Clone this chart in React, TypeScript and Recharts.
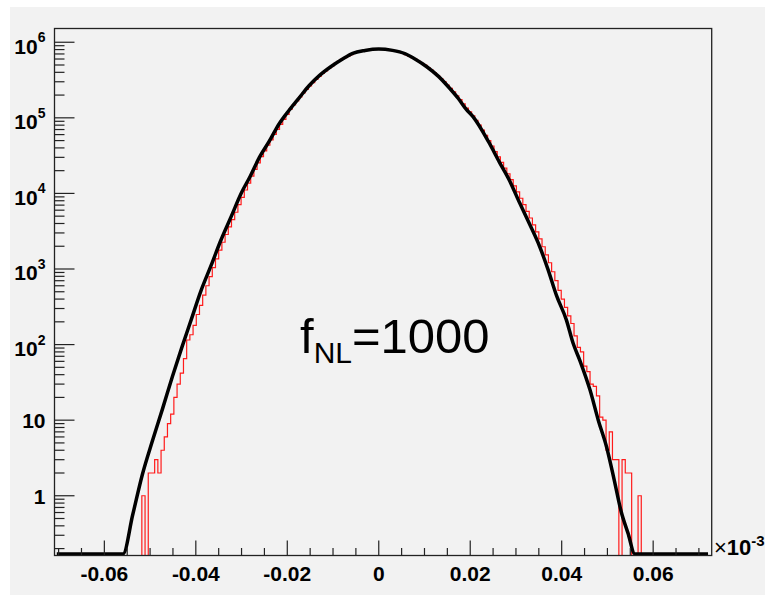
import { Line, LineChart, XAxis, YAxis } from "recharts";

// red histogram: fixed-width bins starting at RED_BIN_START
const RED_BIN_START = -0.0518;
const RED_BIN_WIDTH = 0.0007;
const redCounts = [
  // left tail
  1, 0, 2, 2, 3, 2, 4, 6, 9, 12, 20, 30, 42, 65, 115, 135, 180, 250, 330, 450,
  // left core
  600, 794, 1044, 1365, 1780, 2260, 2860, 3600, 4510, 5630, 7090, 8890, 11100, 13700, 16900, 20800, 25300, 30700,
  36600, 43400, 51200, 60200, 70300, 81800, 95600, 111000, 130000, 148000, 168000, 189000, 213000, 238000, 264000,
  293000, 322000, 353000, 386000, 419000, 452000, 487000, 526000, 560000, 593000, 625000, 656000, 685000, 712000,
  736000, 758000, 776000, 791000, 803000, 810000, 814000,
  // right core
  814000, 810000, 803000, 791000, 776000, 758000, 736000, 712000, 685000, 656000, 625000, 593000, 560000, 526000,
  497000, 462000, 428000, 395000, 362000, 331000, 301000, 272000, 245000, 220000, 196000, 174000, 153000, 135000,
  120000, 106000, 92700, 80100, 68800, 58800, 50100, 42400, 35700, 30400, 25700, 21600, 18200, 15200, 12600, 10500,
  8630, 7090, 5800, 4730, 3840, 3100, 2500, 1970, 1540, 1210,
  // right tail
  920, 700, 520, 400, 310, 240, 190, 130, 92, 80, 52, 44, 30, 28, 21, 11, 10, 4, 7, 3, 3, 0, 3, 2, 2, 0, 0, 1,
];

// black curve
const blackX = [
  -0.0704, -0.0559, -0.0538, -0.0517, -0.0495, -0.0473, -0.0451, -0.043, -0.041, -0.0389, -0.0367, -0.0345, -0.0323,
  -0.0301, -0.0281, -0.0261, -0.024, -0.0218, -0.0196, -0.0174, -0.0152, -0.013, -0.0105, -0.008, -0.0057, -0.003, 0,
  0.003, 0.0057, 0.008, 0.0105, 0.013, 0.0155, 0.0174, 0.0191, 0.0206, 0.024, 0.0264, 0.0285, 0.0308, 0.033, 0.0352,
  0.037, 0.0389, 0.041, 0.0425, 0.044, 0.0462, 0.048, 0.0498, 0.0515, 0.053, 0.0545, 0.056, 0.072,
];
const blackY = [
  0.17, 0.17, 0.56, 1.9, 5.3, 14, 38, 94, 214, 510, 1100, 2420, 4890, 10000, 16900, 30000, 48300, 83000, 126000,
  184000, 268000, 362000, 474000, 596000, 714000, 780000, 815000, 780000, 706000, 596000, 474000, 356000, 246000,
  180000, 130000, 103500, 48300, 25800, 15200, 7500, 3900, 1970, 988, 440, 214, 104, 61, 25, 10, 4.45, 1.6, 0.62,
  0.32, 0.17, 0.17,
];

const xTicks = [
  -0.07, -0.065, -0.06, -0.055, -0.05, -0.045, -0.04, -0.035, -0.03, -0.025, -0.02, -0.015, -0.01, -0.005, 0, 0.005,
  0.01, 0.015, 0.02, 0.025, 0.03, 0.035, 0.04, 0.045, 0.05, 0.055, 0.06, 0.065, 0.07,
];
const xMajorTicks = [-0.06, -0.04, -0.02, 0, 0.02, 0.04, 0.06];
const xMajorLabels = ["-0.06", "-0.04", "-0.02", "0", "0.02", "0.04", "0.06"];

const yMajorTicks = [1, 10, 100, 1000, 10000, 100000, 1000000];
const yMajorBase = ["1", "10", "10", "10", "10", "10", "10"];
const yMajorExp = ["", "", "2", "3", "4", "5", "6"];
const yMinorSteps = [2, 3, 4, 5, 6, 7, 8, 9];

const Y_MIN = 0.162;
const Y_MAX = 1.52e6;
const X_MIN = -0.0709;
const X_MAX = 0.0728;

const W = 755;
const H = 588;
const PLOT = { left: 44.5, top: 21.5, right: 701.7, bottom: 548.5 };

const yMinorTicks = [0.1, ...yMajorTicks.slice(0, -1)].flatMap((d) => yMinorSteps.map((s) => d * s)).filter((v) => v >= Y_MIN);
const yTicks = [...yMajorTicks, ...yMinorTicks].sort((a, b) => a - b);

// zero bins drop below the frame and get clipped
const redData = [
  { x: RED_BIN_START - RED_BIN_WIDTH, y: 0.01 },
  ...redCounts.map((c, i) => ({ x: RED_BIN_START + i * RED_BIN_WIDTH, y: c > 0 ? c : 0.01 })),
  { x: RED_BIN_START + redCounts.length * RED_BIN_WIDTH, y: 0.01 },
];
const blackData = blackX.map((x, i) => ({ x, y: blackY[i] }));

const FONT = "'Liberation Sans', Arial, Helvetica, sans-serif";

const XTick = (props: any) => {
  const { x, y, payload } = props;
  const idx = xMajorTicks.findIndex((t) => Math.abs(t - payload.value) < 1e-9);
  const major = idx >= 0;
  return (
    <g>
      <line x1={x} x2={x} y1={y} y2={y - (major ? 15 : 7.5)} stroke="#222" strokeWidth={1.2} />
      {major && (
        <text x={x} y={y + 25} textAnchor="middle" fontFamily={FONT} fontWeight="bold" fontSize={21} fill="#000">
          {xMajorLabels[idx]}
        </text>
      )}
    </g>
  );
};

const YTick = (props: any) => {
  const { x, y, payload } = props;
  const idx = yMajorTicks.findIndex((t) => Math.abs(t - payload.value) / t < 1e-6);
  const major = idx >= 0;
  const exp = major ? yMajorExp[idx] : "";
  return (
    <g>
      <line x1={x} x2={x + (major ? 20 : 10)} y1={y} y2={y} stroke="#222" strokeWidth={1.2} />
      {major && (
        <text
          x={x - 9}
          y={y + (exp ? 11.5 : 8)}
          textAnchor="end"
          fontFamily={FONT}
          fontWeight="bold"
          fontSize={21}
          fill="#000"
        >
          {yMajorBase[idx]}
          {exp && (
            <tspan dy={-11.5} fontSize={14}>
              {exp}
            </tspan>
          )}
        </text>
      )}
    </g>
  );
};

const App = () => {
  return (
    <div style={{ position: "absolute", left: 10, top: 7, width: W, height: H, background: "#f2f2f2" }}>
      <LineChart
        width={W}
        height={H}
        margin={{ top: PLOT.top, right: W - PLOT.right, left: 0, bottom: H - PLOT.bottom - 30 }}
      >
        <XAxis
          dataKey="x"
          type="number"
          domain={[X_MIN, X_MAX]}
          allowDataOverflow
          ticks={xTicks}
          interval={0}
          tick={XTick}
          tickSize={0}
          tickMargin={0}
          tickLine={false}
          axisLine={false}
          height={30}
        />
        <YAxis
          dataKey="y"
          type="number"
          scale="log"
          domain={[Y_MIN, Y_MAX]}
          allowDataOverflow
          ticks={yTicks}
          interval={0}
          tick={YTick}
          tickSize={0}
          tickMargin={0}
          tickLine={false}
          axisLine={false}
          width={PLOT.left}
        />
        <Line
          data={redData}
          dataKey="y"
          type="stepAfter"
          stroke="#ff1a1a"
          strokeWidth={1.2}
          dot={false}
          isAnimationActive={false}
        />
        <Line
          data={blackData}
          dataKey="y"
          type="monotone"
          stroke="#000"
          strokeWidth={3.5}
          dot={false}
          isAnimationActive={false}
        />
      </LineChart>
      <svg
        width={W}
        height={H}
        style={{ position: "absolute", left: 0, top: 0, pointerEvents: "none" }}
      >
        <rect
          x={PLOT.left}
          y={PLOT.top}
          width={PLOT.right - PLOT.left}
          height={PLOT.bottom - PLOT.top}
          fill="none"
          stroke="#222"
          strokeWidth={1.3}
        />
        <text x={704} y={548} fontFamily={FONT} fill="#000">
          <tspan fontSize={22}>×</tspan>
          <tspan fontSize={22} fontWeight="bold">10</tspan>
          <tspan fontSize={15} fontWeight="bold" dy={-9}>-3</tspan>
        </text>
        <text x={290} y={346} fontFamily={FONT} fill="#000" fontSize={49}>
          f
          <tspan fontSize={30} dy={10}>NL</tspan>
          <tspan dy={-10}>=1000</tspan>
        </text>
      </svg>
    </div>
  );
};

export default App;
